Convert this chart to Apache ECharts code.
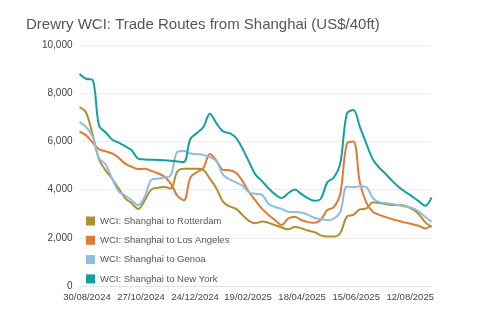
<!DOCTYPE html>
<html>
<head>
<meta charset="utf-8">
<script src="https://cdn.jsdelivr.net/npm/echarts@6/dist/echarts.min.js"></script>
<style>html,body{margin:0;padding:0;background:#fff}#c{width:500px;height:317px}</style>
</head>
<body>
<div id="c"></div>
<script>
const dates = ['2024-08-22','2024-08-29','2024-09-05','2024-09-12','2024-09-19','2024-09-26','2024-10-03','2024-10-10','2024-10-17','2024-10-24','2024-10-31','2024-11-07','2024-11-14','2024-11-21','2024-11-28','2024-12-05','2024-12-12','2024-12-19','2024-12-26','2025-01-02','2025-01-09','2025-01-16','2025-01-23','2025-01-30','2025-02-06','2025-02-13','2025-02-20','2025-02-27','2025-03-06','2025-03-13','2025-03-20','2025-03-27','2025-04-03','2025-04-10','2025-04-17','2025-04-24','2025-05-01','2025-05-08','2025-05-15','2025-05-22','2025-05-29','2025-06-05','2025-06-12','2025-06-19','2025-06-26','2025-07-03','2025-07-10','2025-07-17','2025-07-24','2025-07-31','2025-08-07','2025-08-14','2025-08-21','2025-08-28','2025-09-04'];
const rotterdam = [7420,7200,6300,5250,4800,4450,4050,3650,3430,3200,3550,4000,4080,4110,4050,4750,4870,4870,4870,4820,4450,4050,3500,3300,3200,2950,2700,2600,2680,2620,2520,2430,2350,2450,2400,2300,2240,2100,2050,2050,2200,2880,2950,3180,3220,3480,3440,3400,3360,3360,3320,3200,3000,2650,2450];
const losAngeles = [6400,6250,5950,5680,5590,5500,5320,5080,4950,4850,4860,4780,4680,4540,4250,3750,3560,4500,4720,4900,5480,5200,4820,4800,4700,4350,3900,3540,3200,2950,2730,2530,2800,2870,2740,2650,2620,2750,3150,3270,3850,5900,6000,4300,3450,3080,2950,2860,2770,2700,2630,2570,2500,2390,2500];
const genoa = [6800,6600,6200,5300,5050,4450,3930,3750,3560,3350,3700,4400,4460,4500,4600,5560,5600,5500,5470,5440,5350,5180,4620,4430,4300,4160,3880,3830,3780,3400,3280,3200,3080,3070,3050,2960,2830,2780,2730,2800,3080,4130,4100,4140,4100,3650,3480,3440,3400,3350,3300,3240,3100,2870,2660];
const newYork = [8800,8600,8550,6650,6380,6080,5950,5800,5630,5290,5250,5240,5230,5220,5200,5170,5150,6100,6350,6600,7150,6750,6420,6340,6150,5700,5150,4620,4350,4050,3800,3650,3850,4000,3820,3650,3540,3620,4300,4500,5100,7150,7300,6600,5900,5250,4900,4640,4350,4100,3900,3720,3520,3330,3680];
const xTickLabels = ['2024-08-30','2024-10-27','2024-12-24','2025-02-19','2025-04-18','2025-06-15','2025-08-12'];
const seriesNames = ['WCI: Shanghai to Rotterdam','WCI: Shanghai to Los Angeles','WCI: Shanghai to Genoa','WCI: Shanghai to New York'];
const seriesValues = [rotterdam, losAngeles, genoa, newYork];
const colors = ['#b08f30','#e07b35','#8ebde0','#12a0a0'];

function pad(n){return (n<10?'0':'')+n;}
function ts(s){return Date.UTC(+s.slice(0,4), +s.slice(5,7)-1, +s.slice(8,10));}
const chart = echarts.init(document.getElementById('c'), null, {renderer:'canvas'});
chart.setOption({
  animation:false,
  color: colors,
  textStyle:{fontFamily:'Liberation Sans, Arial, sans-serif'},
  title:{
    text:'Drewry WCI: Trade Routes from Shanghai (US$/40ft)',
    left:21, top:12,
    textStyle:{fontSize:15, fontWeight:'normal', color:'#555', fontFamily:'Liberation Sans, Arial, sans-serif'}
  },
  legend:{
    orient:'vertical', left:81, top:211,
    itemWidth:9, itemHeight:9, itemGap:9.3,
    icon:'rect',
    textStyle:{fontSize:9.5, color:'#555'},
    data: seriesNames
  },
  grid:{left:79.5, right:68.4, top:45, bottom:31, containLabel:false},
  xAxis:{
    type:'value',
    min:ts(dates[0]), max:ts(dates[dates.length-1]),
    axisLine:{show:true, lineStyle:{color:'#e3e3e3'}},
    axisTick:{show:false},
    splitLine:{show:false},
    axisLabel:{
      customValues: xTickLabels.map(ts),
      fontSize:9.5, color:'#444', margin:6, hideOverlap:false,
      formatter:function(v){const d=new Date(v);return pad(d.getUTCDate())+'/'+pad(d.getUTCMonth()+1)+'/'+d.getUTCFullYear();}
    }
  },
  yAxis:{
    type:'value', min:0, max:10000, interval:2000,
    axisLine:{show:false}, axisTick:{show:false},
    splitLine:{lineStyle:{color:'#ececec', width:1}},
    axisLabel:{fontSize:10, color:'#444', margin:7}
  },
  series: seriesNames.map((name,i)=>({
    name:name, type:'line', symbol:'none', smooth:0.35,
    lineStyle:{width:2, color:colors[i]},
    itemStyle:{color:colors[i]},
    data: dates.map((d,j)=>[ts(d), seriesValues[i][j]])
  }))
});
</script>
</body>
</html>
